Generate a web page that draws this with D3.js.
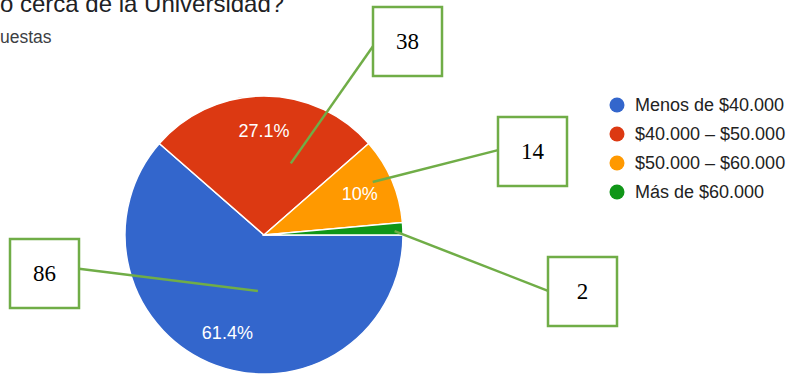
<!DOCTYPE html>
<html>
<head>
<meta charset="utf-8">
<script src="https://cdn.jsdelivr.net/npm/d3@7"></script>
<style>
  html, body { margin: 0; padding: 0; background: #fff; }
  svg { display: block; }
</style>
</head>
<body>
<svg id="chart" width="792" height="374"></svg>
<script>
// Income brackets and number of responses in each
const categories = ["Menos de $40.000", "$40.000 – $50.000", "$50.000 – $60.000", "Más de $60.000"];
const counts = [86, 38, 14, 2];
const colors = ["#3366cc", "#dc3912", "#ff9900", "#109618"];
const titleText = "o cerca de la Universidad?";
const subtitleText = "uestas";

// Callout boxes: box position, and an anchor inside the slice given as
// [fraction of the slice's angular span, fraction of the radius]
const callouts = [
  { i: 0, box: [10, 239], anchor: [0.435, 0.405], edge: "right", at: 0.43 },
  { i: 1, box: [373, 7],  anchor: [0.71, 0.55],  edge: "left",  at: 0.57 },
  { i: 2, box: [498, 117], anchor: [0.42, 0.87], edge: "left",  at: 0.48 },
  { i: 3, box: [548, 257], anchor: [0.67, 0.94], edge: "left",  at: 0.49 }
];
const boxW = 69, boxH = 69;

const sans = "'Liberation Sans', Arial, sans-serif";
const svg = d3.select("#chart");
const cx = 264, cy = 235, r = 139;
const total = d3.sum(counts);

svg.append("text")
  .attr("x", 0).attr("y", 12)
  .attr("font-family", sans)
  .attr("font-size", 24)
  .attr("fill", "#202124")
  .text(titleText);

svg.append("text")
  .attr("x", 0).attr("y", 43)
  .attr("font-family", sans)
  .attr("font-size", 17.5)
  .attr("fill", "#3c4043")
  .text(subtitleText);

// Slices run clockwise starting at 3 o'clock
const pie = d3.pie().sort(null).value(d => d)
  .startAngle(Math.PI / 2).endAngle(Math.PI / 2 + 2 * Math.PI);
const arcs = pie(counts);
const arc = d3.arc().innerRadius(0).outerRadius(r);
const labelArc = d3.arc().innerRadius(r * 0.75).outerRadius(r * 0.75);

const g = svg.append("g").attr("transform", `translate(${cx},${cy})`);
g.selectAll("path.slice").data(arcs).join("path")
  .attr("class", "slice")
  .attr("d", arc)
  .attr("fill", (d, i) => colors[i])
  .attr("stroke", "#fff")
  .attr("stroke-width", 1.5);

const fmt = v => {
  const p = Math.round(v / total * 1000) / 10;
  return (p % 1 === 0 ? p.toFixed(0) : p.toFixed(1)) + "%";
};
g.selectAll("text.pct").data(arcs.filter(d => d.value / total > 0.05)).join("text")
  .attr("class", "pct")
  .attr("transform", d => `translate(${labelArc.centroid(d)})`)
  .attr("text-anchor", "middle")
  .attr("dominant-baseline", "central")
  .attr("font-family", sans)
  .attr("font-size", 18)
  .attr("fill", "#fff")
  .text(d => fmt(d.value));

// Legend
const legend = svg.append("g").attr("transform", "translate(617,105)");
const rows = legend.selectAll("g").data(categories).join("g")
  .attr("transform", (d, i) => `translate(0,${i * 29})`);
rows.append("circle").attr("r", 7.5).attr("fill", (d, i) => colors[i]);
rows.append("text")
  .attr("x", 18).attr("y", 0)
  .attr("dominant-baseline", "central")
  .attr("font-family", sans)
  .attr("font-size", 18)
  .attr("fill", "#222")
  .text(d => d);

// Callouts with the raw counts
const green = "#70ad47";
callouts.forEach(c => {
  const a = arcs[c.i];
  const ang = a.startAngle + (a.endAngle - a.startAngle) * c.anchor[0];
  const rr = r * c.anchor[1];
  const px = cx + Math.sin(ang) * rr, py = cy - Math.cos(ang) * rr;
  const [bx, by] = c.box;
  const ex = c.edge === "left" ? bx : bx + boxW;
  const ey = by + boxH * c.at;
  svg.append("line")
    .attr("x1", px).attr("y1", py).attr("x2", ex).attr("y2", ey)
    .attr("stroke", green).attr("stroke-width", 2.5);
  svg.append("rect")
    .attr("x", bx).attr("y", by).attr("width", boxW).attr("height", boxH)
    .attr("fill", "#fff").attr("stroke", green).attr("stroke-width", 2.5);
  svg.append("text")
    .attr("x", bx + boxW / 2).attr("y", by + boxH / 2)
    .attr("text-anchor", "middle")
    .attr("dominant-baseline", "central")
    .attr("font-family", "'Liberation Serif', 'Times New Roman', serif")
    .attr("font-size", 23)
    .attr("fill", "#000")
    .text(counts[c.i]);
});
</script>
</body>
</html>
